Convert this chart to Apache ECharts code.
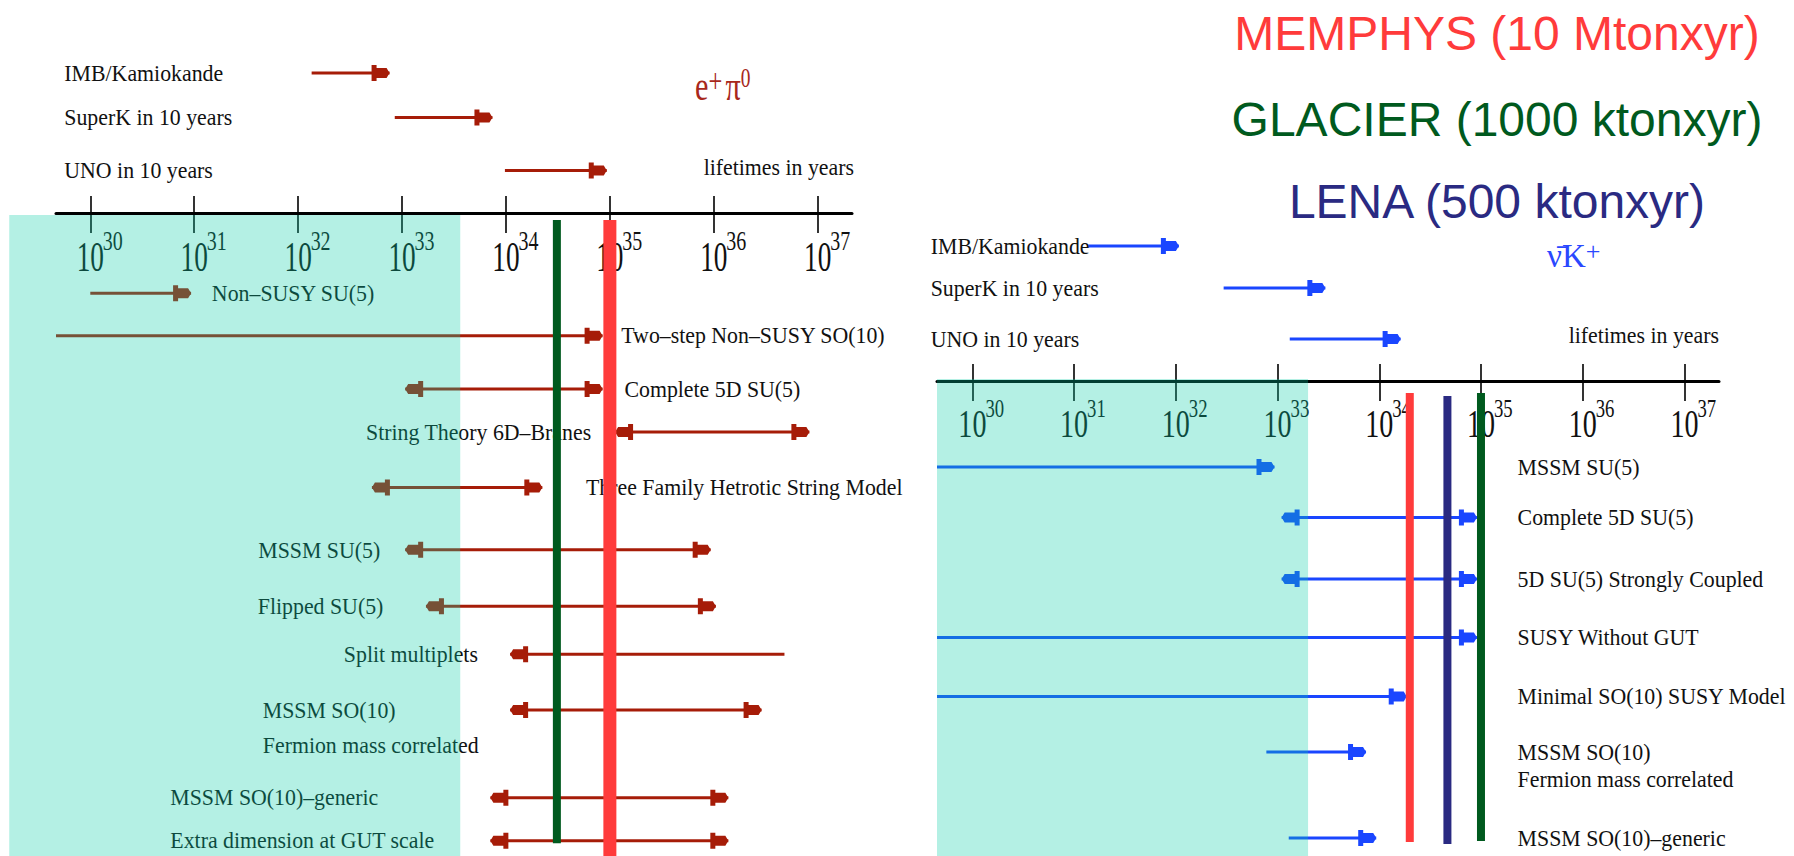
<!DOCTYPE html>
<html>
<head>
<meta charset="utf-8">
<title>Proton decay: model predictions and detector reach</title>
<script src="https://cdn.jsdelivr.net/npm/echarts@6/dist/echarts.min.js"></script>
<style>
  html, body { margin: 0; padding: 0; background: #ffffff; }
  #chart { width: 1794px; height: 856px; }
</style>
</head>
<body>
<div id="chart"></div>
<script>
// Lifetimes are plotted as log10(tau / years).
const lifetimeTicks = [30, 31, 32, 33, 34, 35, 36, 37];

// ---- p -> e+ pi0 ----
const epiSearches = ['IMB/Kamiokande', 'SuperK in 10 years', 'UNO in 10 years'];
const epiSearchFrom = [32.13, 32.93, 33.99];
const epiSearchReach = [32.88, 33.87, 34.97];

const epiModels = [
  'Non–SUSY SU(5)',
  'Two–step Non–SUSY SO(10)',
  'Complete 5D SU(5)',
  'String Theory 6D–Branes',
  'Three Family Hetrotic String Model',
  'MSSM SU(5)',
  'Flipped SU(5)',
  'Split multiplets',
  'MSSM SO(10)\nFermion mass correlated',
  'MSSM SO(10)–generic',
  'Extra dimension at GUT scale'
];
// null: range continues below the axis start
const epiModelLow  = [30.00, null, 33.03, 35.05, 32.71, 33.03, 33.23, 34.04, 34.04, 33.85, 33.85];
const epiModelHigh = [30.97, 34.93, 34.93, 36.92, 34.35, 35.97, 36.02, 36.68, 36.46, 36.14, 36.14];
const epiModelHeads = ['right', 'right', 'both', 'both', 'both', 'both', 'both', 'left', 'both', 'both', 'both'];

const epiExcluded = [29.22, 33.56];
const epiDetectors = ['GLACIER', 'MEMPHYS'];
const epiDetectorReach = [34.49, 35.00];

// ---- p -> nubar K+ ----
const nukSearches = ['IMB/Kamiokande', 'SuperK in 10 years', 'UNO in 10 years'];
const nukSearchFrom = [31.14, 32.47, 33.12];
const nukSearchReach = [32.03, 33.47, 34.21];

const nukModels = [
  'MSSM SU(5)',
  'Complete 5D SU(5)',
  '5D SU(5) Strongly Coupled',
  'SUSY Without GUT',
  'Minimal SO(10) SUSY Model',
  'MSSM SO(10)\nFermion mass correlated',
  'MSSM SO(10)–generic'
];
const nukModelLow  = [null, 33.04, 33.04, null, null, 32.89, 33.11];
const nukModelHigh = [32.97, 34.96, 34.96, 34.96, 34.27, 33.87, 33.97];
const nukModelHeads = ['right', 'both', 'both', 'right', 'right', 'right', 'right'];

const nukExcluded = [null, 33.30];
const nukDetectors = ['MEMPHYS', 'LENA', 'GLACIER'];
const nukDetectorReach = [34.30, 34.67, 35.00];

const detectorTitles = ['MEMPHYS (10 Mtonxyr)', 'GLACIER (1000 ktonxyr)', 'LENA (500 ktonxyr)'];
const detectorTitleKeys = ['MEMPHYS', 'GLACIER', 'LENA'];

// ---- styling ----
const detectorColor = { MEMPHYS: '#ff3b3b', GLACIER: '#005a1e', LENA: '#2a2a82' };
const SERIF = '"Liberation Serif", "Times New Roman", serif';
const SANS = '"Liberation Sans", Arial, sans-serif';
const INK = '#111111';
const SHADE = 'rgba(5, 205, 165, 0.30)';

// Arrowhead outline, tip at the origin, pointing to +x.
const HEAD = [[0, 0], [-3, -5], [-13, -5], [-13, -8], [-18, -8], [-18, 8], [-13, 8], [-13, 5], [-3, 5]];

// Panel layout (row slots are in y-axis units; one unit is about 50 px).
const panels = [
  {
    grid: { left: 56, top: 213, width: 796, height: 643 },
    axisMin: 29.67, axisMax: 37.33, slotMax: 13,
    arrowColor: '#a61c08',
    searches: epiSearches, searchFrom: epiSearchFrom, searchReach: epiSearchReach,
    searchSlots: [-2.83, -1.93, -0.86], searchLabelAt: 29.75,
    models: epiModels, low: epiModelLow, high: epiModelHigh, heads: epiModelHeads,
    modelSlots: [1.62, 2.48, 3.56, 4.43, 5.55, 6.81, 7.95, 8.92, 10.05, 11.82, 12.69],
    labelAt:    [31.17, 35.11, 35.14, 34.82, 34.77, 32.79, 32.82, 33.73, 31.66, 30.77, 30.77],
    labelAlign: ['left', 'left', 'left', 'right', 'left', 'right', 'right', 'right', 'left', 'left', 'left'],
    lineHeight: 35,
    excluded: epiExcluded, shadeTop: 0.04,
    detectors: epiDetectors, reach: epiDetectorReach,
    detectorSpan: [[0.14, 12.74], [0.14, 13]], detectorWidth: [8, 13],
    tick: { base: 42, baseScale: 0.65, baseDy: 44, sup: 27, supScale: 0.74, supDx: 12.5, supDy: 28 }
  },
  {
    grid: { left: 937, top: 381, width: 782, height: 475 },
    axisMin: 29.652, axisMax: 37.34, slotMax: 9.5,
    arrowColor: '#1a46ff',
    searches: nukSearches, searchFrom: nukSearchFrom, searchReach: nukSearchReach,
    searchSlots: [-2.70, -1.86, -0.84], searchLabelAt: 29.59,
    models: nukModels, low: nukModelLow, high: nukModelHigh, heads: nukModelHeads,
    modelSlots: [1.72, 2.73, 3.96, 5.13, 6.31, 7.42, 9.14],
    labelAt:    [35.36, 35.36, 35.36, 35.36, 35.36, 35.36, 35.36],
    labelAlign: ['left', 'left', 'left', 'left', 'left', 'left', 'left'],
    lineHeight: 27,
    excluded: nukExcluded, shadeTop: -0.04,
    detectors: nukDetectors, reach: nukDetectorReach,
    detectorSpan: [[0.24, 9.22], [0.30, 9.26], [0.24, 9.20]], detectorWidth: [8, 8, 8],
    tick: { base: 39, baseScale: 0.72, baseDy: 43, sup: 26, supScale: 0.72, supDx: 13, supDy: 27 }
  }
];

function headShape(tipX, y, dir, color) {
  return {
    type: 'polygon',
    shape: { points: HEAD.map(([dx, dy]) => [tipX + dir * dx, y + dy]) },
    style: { fill: color }
  };
}

function arrowSeries(p, pi, lows, highs, slots, heads, z) {
  return {
    type: 'custom', xAxisIndex: pi * 2, yAxisIndex: pi, clip: false, silent: true, z,
    encode: { x: [0, 1], y: 2 },
    data: slots.map((s, i) => [lows[i] == null ? p.axisMin : lows[i], highs[i], s]),
    renderItem(params, api) {
      const i = params.dataIndex;
      const a = api.coord([api.value(0), api.value(2)]);
      const b = api.coord([api.value(1), api.value(2)]);
      const kind = heads[i];
      const children = [{
        type: 'line',
        shape: { x1: a[0], y1: a[1], x2: b[0], y2: b[1] },
        style: { stroke: p.arrowColor, lineWidth: 3 }
      }];
      if (kind === 'right' || kind === 'both') children.push(headShape(b[0], b[1], 1, p.arrowColor));
      if (kind === 'left' || kind === 'both') children.push(headShape(a[0], a[1], -1, p.arrowColor));
      return { type: 'group', children };
    }
  };
}

function labelSeries(p, pi, texts, anchors, aligns, slots) {
  return {
    type: 'custom', xAxisIndex: pi * 2, yAxisIndex: pi, clip: false, silent: true, z: 4,
    encode: { x: 0, y: 1 },
    data: slots.map((s, i) => [anchors[i], s]),
    renderItem(params, api) {
      const i = params.dataIndex;
      const pt = api.coord([api.value(0), api.value(1)]);
      return {
        type: 'text', x: pt[0], y: pt[1] - p.lineHeight / 2, scaleX: 0.91,
        style: {
          text: texts[i], fontSize: 24, fontFamily: SERIF, fill: INK,
          align: aligns[i], verticalAlign: 'top', lineHeight: p.lineHeight
        }
      };
    }
  };
}

function tickLabelSeries(p, pi) {
  const t = p.tick;
  return {
    type: 'custom', xAxisIndex: pi * 2, yAxisIndex: pi, clip: false, silent: true, z: 2,
    encode: { x: 0, y: 1 },
    data: lifetimeTicks.map(v => [v, 0]),
    renderItem(params, api) {
      const v = api.value(0);
      const pt = api.coord([v, 0]);
      return {
        type: 'group',
        children: [
          {
            type: 'text', x: pt[0], y: pt[1] + t.baseDy, scaleX: t.baseScale,
            style: { text: '10', fontSize: t.base, fontFamily: SERIF, fill: INK, align: 'center', verticalAlign: 'middle' }
          },
          {
            type: 'text', x: pt[0] + t.supDx, y: pt[1] + t.supDy, scaleX: t.supScale,
            style: { text: String(v), fontSize: t.sup, fontFamily: SERIF, fill: INK, align: 'left', verticalAlign: 'middle' }
          }
        ]
      };
    }
  };
}

function detectorSeries(p, pi) {
  return {
    type: 'custom', xAxisIndex: pi * 2, yAxisIndex: pi, clip: false, silent: true, z: 6,
    encode: { x: 0 },
    data: p.reach.map((r, i) => [r, p.detectorSpan[i][0], p.detectorSpan[i][1]]),
    renderItem(params, api) {
      const i = params.dataIndex;
      const top = api.coord([api.value(0), api.value(1)]);
      const bot = api.coord([api.value(0), api.value(2)]);
      const w = p.detectorWidth[i];
      return {
        type: 'rect',
        shape: { x: top[0] - w / 2, y: top[1], width: w, height: bot[1] - top[1] },
        style: { fill: detectorColor[p.detectors[i]] }
      };
    }
  };
}

function shadeSeries(p, pi) {
  const from = p.excluded[0] == null ? p.axisMin : p.excluded[0];
  return {
    type: 'custom', xAxisIndex: pi * 2, yAxisIndex: pi, clip: false, silent: true, z: 10,
    encode: { x: [0, 1] },
    data: [[from, p.excluded[1]]],
    renderItem(params, api) {
      const a = api.coord([api.value(0), p.shadeTop]);
      const b = api.coord([api.value(1), p.slotMax]);
      return {
        type: 'rect',
        shape: { x: a[0], y: a[1], width: b[0] - a[0], height: b[1] - a[1] },
        style: { fill: SHADE }
      };
    }
  };
}

const xAxes = [];
const yAxes = [];
const series = [];
panels.forEach((p, pi) => {
  const common = {
    type: 'value', gridIndex: pi, position: 'top', min: p.axisMin, max: p.axisMax,
    splitLine: { show: false }, axisLabel: { show: false }
  };
  xAxes.push({
    ...common,
    axisLine: { show: true, onZero: false, lineStyle: { color: '#000', width: 3 } },
    axisTick: { show: true, inside: false, length: 17, customValues: lifetimeTicks, lineStyle: { color: '#000', width: 1.6 } }
  });
  xAxes.push({
    ...common,
    axisLine: { show: false, onZero: false },
    axisTick: { show: true, inside: true, length: 20, customValues: lifetimeTicks, lineStyle: { color: '#000', width: 1.6 } }
  });
  yAxes.push({ type: 'value', gridIndex: pi, inverse: true, min: 0, max: p.slotMax, show: false });

  series.push(tickLabelSeries(p, pi));
  series.push(arrowSeries(p, pi, p.searchFrom, p.searchReach, p.searchSlots, p.searchSlots.map(() => 'right'), 3));
  series.push(labelSeries(p, pi, p.searches, p.searchSlots.map(() => p.searchLabelAt), p.searchSlots.map(() => 'left'), p.searchSlots));
  series.push(arrowSeries(p, pi, p.low, p.high, p.modelSlots, p.heads, 3));
  series.push(labelSeries(p, pi, p.models, p.labelAt, p.labelAlign, p.modelSlots));
  series.push(detectorSeries(p, pi));
  series.push(shadeSeries(p, pi));
});

const titleY = [33, 119, 201];
const graphicElements = detectorTitles.map((t, i) => ({
  type: 'text', x: 1497, y: titleY[i],
  style: {
    text: t, fontSize: 48, fontFamily: SANS, fill: detectorColor[detectorTitleKeys[i]],
    align: 'center', verticalAlign: 'middle'
  }
}));

// channel names
const EPI_RED = '#a8281c';
graphicElements.push({
  type: 'text', x: 695, y: 64, scaleX: 0.72,
  style: {
    text: '{b|e}{p|+}{g| }{b|π}{s|0}', align: 'left', verticalAlign: 'top', fill: EPI_RED,
    rich: {
      b: { fontSize: 42, fontFamily: SERIF, lineHeight: 44, fill: EPI_RED },
      p: { fontSize: 34, fontFamily: SERIF, lineHeight: 24, verticalAlign: 'top', fill: EPI_RED },
      g: { fontSize: 18, fontFamily: SERIF, lineHeight: 14, fill: EPI_RED },
      s: { fontSize: 27, fontFamily: SERIF, lineHeight: 22, verticalAlign: 'top', fill: EPI_RED }
    }
  }
});
const NUK_BLUE = '#2a48ff';
graphicElements.push({
  type: 'text', x: 1547, y: 238,
  style: {
    text: '{b|ν\u0304K}{s|+}', align: 'left', verticalAlign: 'top', fill: NUK_BLUE,
    rich: {
      b: { fontSize: 33, fontFamily: SERIF, lineHeight: 36, fill: NUK_BLUE },
      s: { fontSize: 26, fontFamily: SERIF, lineHeight: 8, verticalAlign: 'top', fill: NUK_BLUE }
    }
  }
});

// axis captions
[[854, 167], [1719, 335]].forEach(([x, y]) => {
  graphicElements.push({
    type: 'text', x, y, scaleX: 0.91,
    style: { text: 'lifetimes in years', fontSize: 24, fontFamily: SERIF, fill: INK, align: 'right', verticalAlign: 'middle' }
  });
});

const chart = echarts.init(document.getElementById('chart'), null, { renderer: 'svg' });
chart.setOption({
  animation: false,
  backgroundColor: '#ffffff',
  grid: panels.map(p => ({ ...p.grid, containLabel: false })),
  xAxis: xAxes,
  yAxis: yAxes,
  graphic: { elements: graphicElements },
  series
});
</script>
</body>
</html>
